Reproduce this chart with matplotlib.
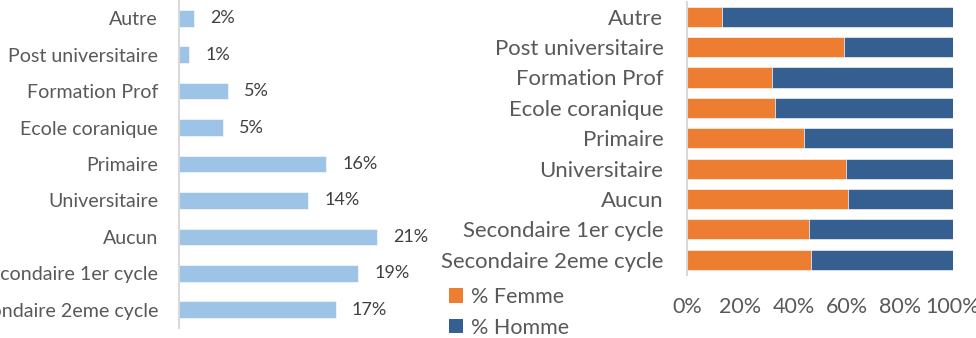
import numpy as np
import matplotlib
matplotlib.use("Agg")
import matplotlib.pyplot as plt
from matplotlib.patches import Patch
from matplotlib.ticker import FixedLocator, PercentFormatter

# Niveaux d'instruction (de haut en bas)
niveaux = ["Autre", "Post universitaire", "Formation Prof", "Ecole coranique",
           "Primaire", "Universitaire", "Aucun", "Secondaire 1er cycle",
           "Secondaire 2eme cycle"]

# Part de chaque niveau dans l'effectif (%)
part = [1.6, 1.1, 5.2, 4.7, 15.6, 13.7, 21.0, 19.0, 16.6]

# Repartition par sexe (%)
femme = [13.3, 59.0, 32.0, 33.0, 44.0, 59.8, 60.5, 46.0, 46.6]
homme = [100 - f for f in femme]

plt.rcParams["font.family"] = ["Lato", "DejaVu Sans"]

W, H = 976, 338
fig = plt.figure(figsize=(W / 100, H / 100), dpi=100)

grey_txt = "#595959"
axis_clr = "#D9D9D9"
bleu_clair = "#9DC3E6"
orange = "#ED7D31"
bleu = "#365F91"

def px_axes(x0, y0, x1, y1):
    return fig.add_axes([x0 / W, 1 - y1 / H, (x1 - x0) / W, (y1 - y0) / H])

def style(ax, pad):
    for s in ("top", "right", "bottom"):
        ax.spines[s].set_visible(False)
    ax.spines["left"].set_color(axis_clr)
    ax.spines["left"].set_linewidth(1.5)
    ax.tick_params(axis="y", length=0, pad=pad, colors=grey_txt)
    ax.tick_params(axis="x", length=0)

y = np.arange(len(niveaux))

# Graphique de gauche : repartition par niveau
ax1 = px_axes(179, 0, 415, 328)
ax1.barh(y, part, height=0.46, color=bleu_clair, edgecolor="white", linewidth=0.4)
ax1.set_xlim(0, 25)
ax1.set_ylim(len(niveaux) - 0.5, -0.5)
ax1.set_yticks(y)
ax1.set_yticklabels(niveaux, fontsize=14.1)
ax1.set_xticks([])
style(ax1, 15)
for yi, v in zip(y, part):
    ax1.text(v + 1.7, yi, "{:.0f}%".format(v), va="center", ha="left",
             fontsize=13, color="#404040", clip_on=False)

# Graphique de droite : repartition par sexe
ax2 = px_axes(687, 1.5, 953, 275)
ax2.barh(y, femme, height=0.66, color=orange, edgecolor="white", linewidth=0.4)
ax2.barh(y, homme, left=femme, height=0.66, color=bleu, edgecolor="white", linewidth=0.4)
ax2.set_xlim(0, 100)
ax2.set_ylim(len(niveaux) - 0.5, -0.5)
ax2.set_yticks(y)
ax2.set_yticklabels(niveaux, fontsize=15.9)
ax2.xaxis.set_major_locator(FixedLocator([0, 20, 40, 60, 80, 100]))
ax2.xaxis.set_major_formatter(PercentFormatter(decimals=0))
ax2.tick_params(axis="x", labelsize=15.5, labelcolor=grey_txt, pad=16)
style(ax2, 17)

handles = [Patch(facecolor=orange, label="% Femme"),
           Patch(facecolor=bleu, label="% Homme")]
fig.legend(handles=handles, loc="upper left", bbox_to_anchor=(449 / W, 1 - 287 / H),
           frameon=False, fontsize=15.5, labelcolor=grey_txt,
           handlelength=0.65, handleheight=0.65, handletextpad=0.35,
           labelspacing=0.5, borderaxespad=0, borderpad=0)

fig.savefig("out.png", dpi=100)
